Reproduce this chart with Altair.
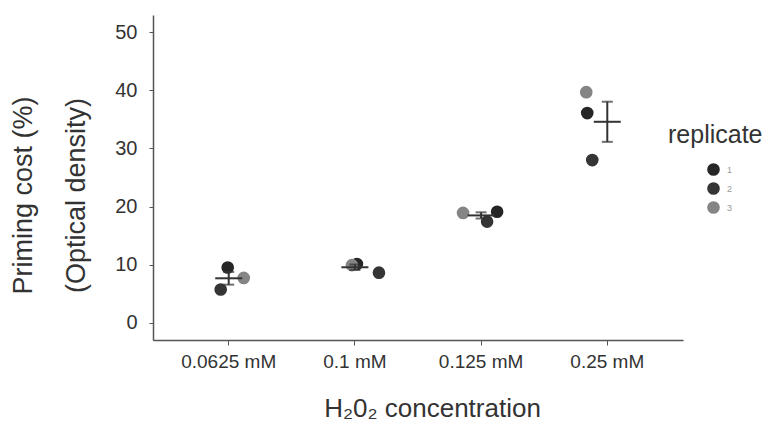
import altair as alt
import pandas as pd

categories = ["0.0625 mM", "0.1 mM", "0.125 mM", "0.25 mM"]
replicates = ["1", "2", "3"]
rep1 = [9.5, 10.1, 19.1, 36.1]
rep2 = [5.7, 8.6, 17.4, 28.0]
rep3 = [7.7, 9.9, 18.9, 39.7]
jitter1 = [-1, 2, 16, -20]
jitter2 = [-8, 24, 6, -15]
jitter3 = [15, -3, -18, -21]

rows = []
for rep, vals, jit in zip(replicates, [rep1, rep2, rep3], [jitter1, jitter2, jitter3]):
    for c, v, j in zip(categories, vals, jit):
        rows.append({"conc": c, "replicate": rep, "value": v, "jitter": j})
df = pd.DataFrame(rows)

FONT = "Liberation Sans"
INK = "#333333"
AXIS = "#555555"
Y_TITLE = ["Priming cost (%)", "(Optical density)"]

x_axis = alt.Axis(
    title="H₂0₂ concentration",
    labelAngle=0,
    labelFontSize=19,
    labelColor=INK,
    labelPadding=7,
    tickSize=5,
    tickColor=AXIS,
    domainColor=AXIS,
    domainWidth=1.5,
    titleFontSize=26,
    titleFontWeight="normal",
    titleColor=INK,
    titleX=279,
    titleY=76,
    titleBaseline="alphabetic",
    titleAlign="center",
)
x_scale = alt.Scale(paddingInner=0, paddingOuter=0.1)

y_axis = alt.Axis(
    title=Y_TITLE,
    values=[0, 10, 20, 30, 40, 50],
    grid=False,
    labelFontSize=20,
    labelColor=INK,
    labelPadding=12,
    tickSize=4,
    tickColor=AXIS,
    domainColor=AXIS,
    domainWidth=1.5,
    titleFontSize=27,
    titleFontWeight="normal",
    titleColor=INK,
    titleLineHeight=53,
    titleAngle=-90,
    titleX=-122,
    titleY=180,
    titleBaseline="alphabetic",
    titleAlign="center",
)
y_scale = alt.Scale(domain=[-3, 53], nice=False, zero=False)


def xe():
    return alt.X("conc:N", sort=categories, scale=x_scale, axis=x_axis, title="H₂0₂ concentration")


base = alt.Chart(df)

points = base.mark_circle(size=160, opacity=1).encode(
    x=xe(),
    y=alt.Y("value:Q", scale=y_scale, axis=y_axis, title=Y_TITLE),
    xOffset=alt.XOffset("jitter:Q", scale=alt.Scale(domain=[-63, 63])),
    color=alt.Color(
        "replicate:N",
        scale=alt.Scale(domain=replicates, range=["#262626", "#353535", "#858585"]),
        legend=alt.Legend(
            title="replicate",
            orient="none",
            legendX=515,
            legendY=108,
            titleFontSize=25,
            titleFontWeight="normal",
            titleColor=INK,
            titlePadding=14,
            symbolOffset=38,
            symbolSize=160,
            symbolType="circle",
            labelFontSize=9,
            labelColor="#999999",
            labelOffset=6,
            rowPadding=5,
        ),
    ),
)

errbars = base.mark_errorbar(extent="stderr", ticks=True, size=11, thickness=2, color=INK).encode(
    x=xe(),
    y=alt.Y("value:Q", scale=y_scale, axis=y_axis, title=Y_TITLE),
)

means = base.mark_tick(size=27, thickness=2, color=INK).encode(
    x=xe(),
    y=alt.Y("value:Q", aggregate="mean", scale=y_scale, axis=y_axis, title=Y_TITLE),
)

chart = (
    alt.layer(points, errbars, means)
    .properties(
        width=530,
        height=325,
        autosize=alt.AutoSizeParams(type="none"),
        padding={"left": 153, "top": 15, "right": 83, "bottom": 92},
    )
    .configure(font=FONT)
    .configure_view(strokeWidth=0, stroke=None)
)

chart.save("out.html", embed_options={"renderer": "svg", "actions": False})
